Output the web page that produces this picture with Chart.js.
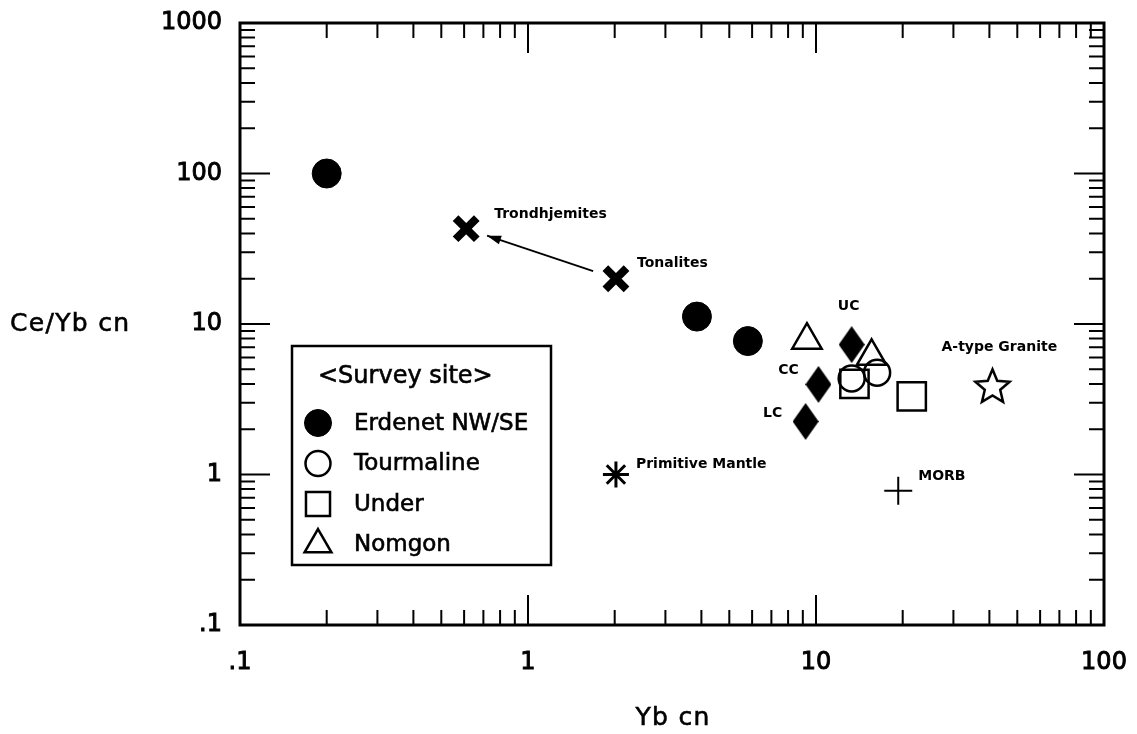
<!DOCTYPE html>
<html>
<head>
<meta charset="utf-8">
<script src="https://cdn.jsdelivr.net/npm/chart.js@4/dist/chart.umd.min.js"></script>
<style>
html, body { margin: 0; padding: 0; background: #fff; }
</style>
</head>
<body>
<canvas id="chart" width="1137" height="734"></canvas>
<script>
// survey sites
const erdenetX = [0.2, 3.86, 5.8];
const erdenetY = [100, 11.2, 7.7];
const tourmalineX = [13.3, 16.3];
const tourmalineY = [4.35, 4.75];
const underX = [13.6, 21.5];
const underY = [4.0, 3.3];
const nomgonX = [9.3, 15.6];
const nomgonY = [7.8, 6.1];

// reference compositions
const granitoidNames = ['Trondhjemites', 'Tonalites'];
const granitoidX = [0.61, 2.02];
const granitoidY = [43, 20];
const crustNames = ['UC', 'CC', 'LC'];
const crustX = [13.3, 10.2, 9.2];
const crustY = [7.3, 3.97, 2.25];
const mantleNames = ['Primitive Mantle'];
const mantleX = [2.02];
const mantleY = [1.0];
const morbNames = ['MORB'];
const morbX = [19.3];
const morbY = [0.78];
const graniteNames = ['A-type Granite'];
const graniteX = [41];
const graniteY = [3.9];

const xTickValues = [0.1, 1, 10, 100];
const xTickLabels = ['.1', '1', '10', '100'];
const yTickValues = [0.1, 1, 10, 100, 1000];
const yTickLabels = ['.1', '1', '10', '100', '1000'];

const FONT = 'DejaVu Sans';

function pts(xs, ys) {
    return xs.map((x, i) => ({x: x, y: ys[i]}));
}

function diamondCanvas(w, h) {
    const c = document.createElement('canvas');
    c.width = w; c.height = h;
    const g = c.getContext('2d');
    g.beginPath();
    g.moveTo(w / 2, 0); g.lineTo(w, h / 2); g.lineTo(w / 2, h); g.lineTo(0, h / 2);
    g.closePath();
    g.fillStyle = '#000';
    g.fill();
    return c;
}

function starCanvas(R, lw) {
    const s = Math.ceil(2 * R + 2 * lw + 2);
    const c = document.createElement('canvas');
    c.width = s; c.height = s;
    const g = c.getContext('2d');
    const cx = s / 2, cy = s / 2 + R * 0.1;
    g.beginPath();
    for (let i = 0; i < 10; i++) {
        const r = i % 2 ? R * 0.45 : R;
        const a = -Math.PI / 2 + i * Math.PI / 5;
        g.lineTo(cx + r * Math.cos(a), cy + r * Math.sin(a));
    }
    g.closePath();
    g.lineJoin = 'miter';
    g.lineWidth = lw;
    g.strokeStyle = '#000';
    g.stroke();
    return c;
}

// text a bit heavier, like the scanned original
function heavyText(ctx, txt, x, y, w) {
    ctx.lineWidth = w;
    ctx.strokeStyle = ctx.fillStyle;
    ctx.strokeText(txt, x, y);
    ctx.fillText(txt, x, y);
}

// inward log ticks on all four sides, and the frame
const framePlugin = {
    id: 'frame',
    beforeDatasetsDraw(chart) {
        const {ctx, chartArea: a, scales} = chart;
        ctx.save();
        ctx.strokeStyle = '#000';
        ctx.lineWidth = 2;
        const each = (scale, fn) => {
            for (let d = scale.min; d < scale.max * 1.001; d *= 10) {
                for (let k = 1; k < 10; k++) {
                    const v = k * d;
                    if (v > scale.max * 1.001) break;
                    fn(scale.getPixelForValue(v), k === 1 ? 30 : 15);
                }
            }
        };
        ctx.beginPath();
        each(scales.x, (px, len) => {
            ctx.moveTo(px, a.bottom); ctx.lineTo(px, a.bottom - len);
            ctx.moveTo(px, a.top); ctx.lineTo(px, a.top + len);
        });
        each(scales.y, (py, len) => {
            ctx.moveTo(a.left, py); ctx.lineTo(a.left + len, py);
            ctx.moveTo(a.right, py); ctx.lineTo(a.right - len, py);
        });
        ctx.stroke();
        ctx.lineWidth = 3;
        ctx.strokeRect(a.left, a.top, a.right - a.left, a.bottom - a.top);
        ctx.restore();
    }
};

// point names, arrow, legend box, axis titles
const notesPlugin = {
    id: 'notes',
    afterDatasetsDraw(chart) {
        const {ctx, chartArea: a, scales: {x, y}} = chart;
        ctx.save();
        ctx.fillStyle = '#000';
        ctx.textBaseline = 'middle';
        ctx.font = 'bold 14px "' + FONT + '"';
        chart.data.datasets.forEach(ds => {
            if (!ds.names) return;
            ds.data.forEach((p, i) => {
                const o = ds.nameOffsets[i];
                ctx.textAlign = o[2];
                ctx.fillText(ds.names[i], x.getPixelForValue(p.x) + o[0], y.getPixelForValue(p.y) + o[1]);
            });
        });

        // arrow Tonalites -> Trondhjemites
        const x1 = x.getPixelForValue(granitoidX[1]), y1 = y.getPixelForValue(granitoidY[1]);
        const x0 = x.getPixelForValue(granitoidX[0]), y0 = y.getPixelForValue(granitoidY[0]);
        const ang = Math.atan2(y0 - y1, x0 - x1);
        const len = Math.hypot(x0 - x1, y0 - y1);
        const sx = x1 + Math.cos(ang) * 24, sy = y1 + Math.sin(ang) * 24;
        const ex = x1 + Math.cos(ang) * (len - 22), ey = y1 + Math.sin(ang) * (len - 22);
        ctx.lineWidth = 1.8;
        ctx.strokeStyle = '#000';
        ctx.beginPath(); ctx.moveTo(sx, sy); ctx.lineTo(ex, ey); ctx.stroke();
        ctx.beginPath();
        ctx.moveTo(ex, ey);
        ctx.lineTo(ex - 14 * Math.cos(ang) + 4.5 * Math.sin(ang), ey - 14 * Math.sin(ang) - 4.5 * Math.cos(ang));
        ctx.lineTo(ex - 14 * Math.cos(ang) - 4.5 * Math.sin(ang), ey - 14 * Math.sin(ang) + 4.5 * Math.cos(ang));
        ctx.closePath(); ctx.fill();

        // legend
        const bx = a.left + 52, by = a.top + 323, bw = 259, bh = 219;
        ctx.fillStyle = '#fff';
        ctx.fillRect(bx, by, bw, bh);
        ctx.lineWidth = 2.5;
        ctx.strokeStyle = '#000';
        ctx.strokeRect(bx, by, bw, bh);
        ctx.fillStyle = '#000';
        ctx.textAlign = 'left';
        ctx.font = '24px "' + FONT + '"';
        heavyText(ctx, '<Survey site>', bx + 26, by + 31, 0.6);
        ctx.font = '23px "' + FONT + '"';
        const legendSets = chart.data.datasets.filter(ds => ds.inLegend);
        legendSets.forEach((ds, i) => {
            const cy = by + 77 + i * 40.5, cx = bx + 26;
            ctx.save();
            ctx.fillStyle = ds.backgroundColor;
            ctx.strokeStyle = ds.borderColor;
            ctx.lineWidth = ds.borderWidth;
            Chart.helpers.drawPoint(ctx, {
                pointStyle: ds.pointStyle, radius: ds.legendRadius,
                borderWidth: ds.borderWidth, rotation: 0
            }, cx, cy);
            ctx.restore();
            heavyText(ctx, ds.label, bx + 62, cy + 1, 0.6);
        });

        ctx.restore();
    },
    afterDraw(chart) {
        const {ctx, chartArea: a} = chart;
        ctx.save();
        ctx.fillStyle = '#000';
        ctx.font = '25px "' + FONT + '"';
        ctx.textBaseline = 'middle';
        ctx.letterSpacing = '1.3px';
        ctx.textAlign = 'left';
        heavyText(ctx, 'Ce/Yb cn', 10, 324, 0.6);
        ctx.textAlign = 'center';
        heavyText(ctx, 'Yb cn', (a.left + a.right) / 2 + 1, 718, 0.6);
        ctx.restore();
    }
};

const ctx = document.getElementById('chart');
new Chart(ctx, {
    type: 'scatter',
    data: {
        datasets: [{
            label: 'Erdenet NW/SE', inLegend: true,
            data: pts(erdenetX, erdenetY),
            pointStyle: 'circle', pointRadius: 14.5, legendRadius: 13.5,
            backgroundColor: '#000', borderColor: '#000', borderWidth: 1
        }, {
            label: 'Tourmaline', inLegend: true,
            data: pts(tourmalineX, tourmalineY),
            pointStyle: 'circle', pointRadius: 13, legendRadius: 12.5,
            backgroundColor: 'rgba(0,0,0,0)', borderColor: '#000', borderWidth: 2.5
        }, {
            label: 'Under', inLegend: true,
            data: pts(underX, underY),
            pointStyle: 'rect', pointRadius: 20, legendRadius: 17,
            backgroundColor: 'rgba(0,0,0,0)', borderColor: '#000', borderWidth: 2.5
        }, {
            label: 'Nomgon', inLegend: true,
            data: pts(nomgonX, nomgonY),
            pointStyle: 'triangle', pointRadius: 17, legendRadius: 15.5,
            backgroundColor: 'rgba(0,0,0,0)', borderColor: '#000', borderWidth: 2.5
        }, {
            label: 'Granitoids', names: granitoidNames,
            nameOffsets: [[28, -14, 'left'], [21, -15, 'left']],
            data: pts(granitoidX, granitoidY),
            pointStyle: 'crossRot', pointRadius: 15,
            backgroundColor: '#000', borderColor: '#000', borderWidth: 8
        }, {
            label: 'Crust', names: crustNames,
            nameOffsets: [[-3, -38, 'center'], [-30, -14, 'center'], [-33, -8, 'center']],
            data: pts(crustX, crustY),
            pointStyle: diamondCanvas(26, 37), pointRadius: 14,
            backgroundColor: '#000', borderColor: '#000'
        }, {
            label: 'Primitive Mantle', names: mantleNames,
            nameOffsets: [[20, -10, 'left']],
            data: pts(mantleX, mantleY),
            pointStyle: 'star', pointRadius: 13,
            backgroundColor: '#000', borderColor: '#000', borderWidth: 3
        }, {
            label: 'MORB', names: morbNames,
            nameOffsets: [[20, -14, 'left']],
            data: pts(morbX, morbY),
            pointStyle: 'cross', pointRadius: 14,
            backgroundColor: '#000', borderColor: '#000', borderWidth: 2
        }, {
            label: 'A-type Granite', names: graniteNames,
            nameOffsets: [[-51, -38, 'left']],
            data: pts(graniteX, graniteY),
            pointStyle: starCanvas(18, 2.5), pointRadius: 18,
            backgroundColor: '#000', borderColor: '#000'
        }]
    },
    options: {
        responsive: false,
        animation: false,
        layout: {padding: {top: 20, right: 33, left: 0, bottom: 0}},
        plugins: {legend: {display: false}, tooltip: {enabled: false}},
        elements: {point: {hoverRadius: 0}},
        scales: {
            x: {
                type: 'logarithmic', min: 0.1, max: 100,
                grid: {display: false, drawTicks: false},
                border: {display: false},
                afterBuildTicks: s => { s.ticks = xTickValues.map(v => ({value: v})); },
                afterFit: s => { s.height = 109; s.paddingLeft = 0; s.paddingRight = 0; },
                ticks: {
                    autoSkip: false, maxRotation: 0, padding: 23, color: '#000',
                    textStrokeColor: '#000', textStrokeWidth: 0.9,
                    font: {family: FONT, size: 24},
                    callback: v => xTickLabels[xTickValues.indexOf(v)]
                }
            },
            y: {
                type: 'logarithmic', min: 0.1, max: 1000,
                grid: {display: false, drawTicks: false},
                border: {display: false},
                afterBuildTicks: s => { s.ticks = yTickValues.map(v => ({value: v})); },
                afterFit: s => { s.width = 240; s.paddingTop = 0; s.paddingBottom = 0; },
                ticks: {
                    autoSkip: false, padding: 18, color: '#000',
                    textStrokeColor: '#000', textStrokeWidth: 0.9,
                    font: {family: FONT, size: 24},
                    callback: v => yTickLabels[yTickValues.indexOf(v)]
                }
            }
        }
    },
    plugins: [framePlugin, notesPlugin]
});
</script>
</body>
</html>
